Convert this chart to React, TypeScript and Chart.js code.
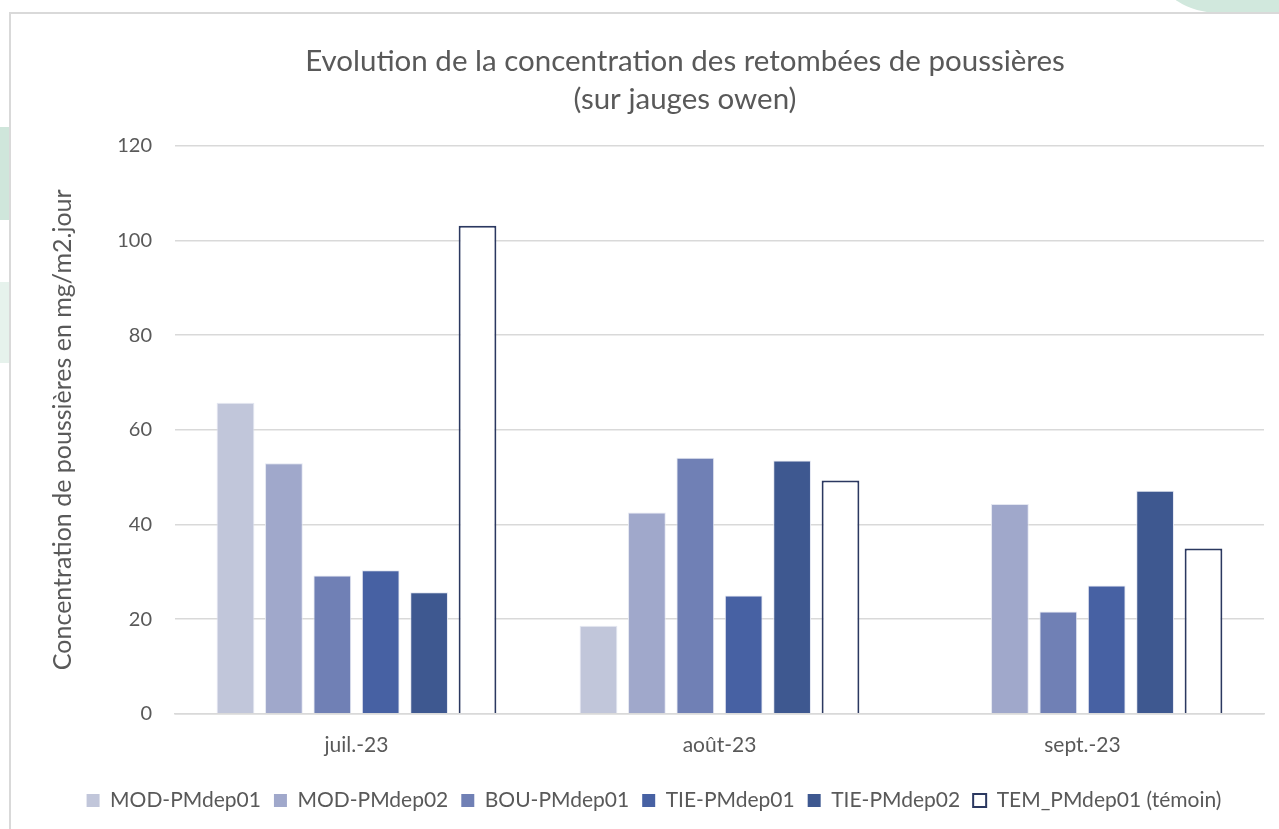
import React, { useEffect, useRef } from "react";
import { Chart, registerables } from "chart.js";

Chart.register(...registerables);

const categories = ["juil.-23", "août-23", "sept.-23"];
const seriesNames = [
  "MOD-PMdep01",
  "MOD-PMdep02",
  "BOU-PMdep01",
  "TIE-PMdep01",
  "TIE-PMdep02",
  "TEM_PMdep01 (témoin)",
];
const modPMdep01 = [65.7, 18.6, null];
const modPMdep02 = [52.9, 42.5, 44.3];
const bouPMdep01 = [29.2, 54.1, 21.6];
const tiePMdep01 = [30.3, 25.0, 27.1];
const tiePMdep02 = [25.7, 53.5, 47.1];
const temPMdep01 = [103.1, 49.3, 34.9];
const yTicks = [0, 20, 40, 60, 80, 100, 120];

const titleLines = [
  "Evolution de la concentration des retombées de poussières",
  "(sur jauges owen)",
];
const yAxisTitle = "Concentration de poussières en mg/m2.jour";

const fills = ["#c1c6da", "#a0a8cb", "#7080b5", "#4761a3", "#3e5890", "#ffffff"];
const FONT = "Lato, 'Open Sans', sans-serif";
const TEXT = "#595959";

const titleShift = {
  id: "titleShift",
  afterLayout(chart: any) {
    const tb = chart.titleBlock;
    if (tb) {
      tb.left += 31;
      tb.right += 31;
    }
  },
};

export default function App() {
  const ref = useRef<HTMLCanvasElement | null>(null);

  useEffect(() => {
    if (!ref.current) return;
    const values = [modPMdep01, modPMdep02, bouPMdep01, tiePMdep01, tiePMdep02, temPMdep01];
    const datasets = values.map((v, i) => ({
      label: seriesNames[i],
      data: v,
      backgroundColor: fills[i],
      borderColor: i === 5 ? "#2b3860" : "rgba(225,228,240,0.9)",
      borderWidth: i === 5 ? 2 : 1,
      categoryPercentage: 0.8,
      barPercentage: 0.78,
    }));
    const chart = new Chart(ref.current, {
      type: "bar",
      data: { labels: categories, datasets },
      plugins: [titleShift],
      options: {
        animation: false,
        responsive: false,
        maintainAspectRatio: false,
        layout: { padding: { left: 44, right: 15, top: 30, bottom: 8 } },
        plugins: {
          tooltip: { enabled: false },
          title: {
            display: true,
            text: titleLines,
            color: TEXT,
            font: { family: FONT, size: 29.5, weight: "normal", lineHeight: 1.3 },
            padding: { top: 12, bottom: 27 },
          },
          legend: {
            position: "bottom",
            labels: {
              color: TEXT,
              font: { family: FONT, size: 21 },
              boxWidth: 13,
              boxHeight: 13,
              padding: 13,
              generateLabels: (c: any) =>
                c.data.datasets.map((d: any, i: number) => ({
                  text: d.label,
                  fillStyle: fills[i],
                  strokeStyle: i === 5 ? "#2b3860" : fills[i],
                  lineWidth: i === 5 ? 2 : 0,
                  hidden: false,
                  datasetIndex: i,
                  fontColor: TEXT,
                })),
            },
          },
        },
        scales: {
          x: {
            grid: { display: false, drawTicks: false },
            border: { display: true, color: "#d9d9d9", width: 1.5 },
            ticks: { color: TEXT, font: { family: FONT, size: 21 }, padding: 19 },
          },
          y: {
            min: 0,
            max: 120,
            afterBuildTicks: (s: any) => {
              s.ticks = yTicks.map((v) => ({ value: v }));
            },
            afterFit: (s: any) => {
              s.width = 131;
            },
            grid: { color: "#d9d9d9", lineWidth: 1.5, drawTicks: false },
            border: { display: false },
            ticks: { color: TEXT, font: { family: FONT, size: 20 }, padding: 23 },
            title: {
              display: true,
              text: yAxisTitle,
              color: TEXT,
              font: { family: FONT, size: 25 },
              padding: { top: 4, bottom: 4 },
            },
          },
        },
      },
    });
    return () => chart.destroy();
  }, []);

  return (
    <div style={{ position: "fixed", left: 0, top: 0, width: 1279, height: 829, background: "#fff", overflow: "hidden" }}>
      <div style={{ position: "absolute", left: 1160, top: -30, width: 200, height: 43, background: "#d1e8dd", borderBottomLeftRadius: "60px 40px" }} />
      <div style={{ position: "absolute", left: 0, top: 127, width: 9, height: 93, background: "#cfe6db" }} />
      <div style={{ position: "absolute", left: 0, top: 282, width: 9, height: 81, background: "#e6f2ec" }} />
      <div style={{ position: "absolute", left: 9, top: 12, width: 1300, height: 900, border: "2px solid #d9d9d9", background: "#fff" }} />
      <canvas ref={ref} width={1279} height={829} style={{ position: "absolute", left: 0, top: 0, width: 1279, height: 829 }} />
    </div>
  );
}
